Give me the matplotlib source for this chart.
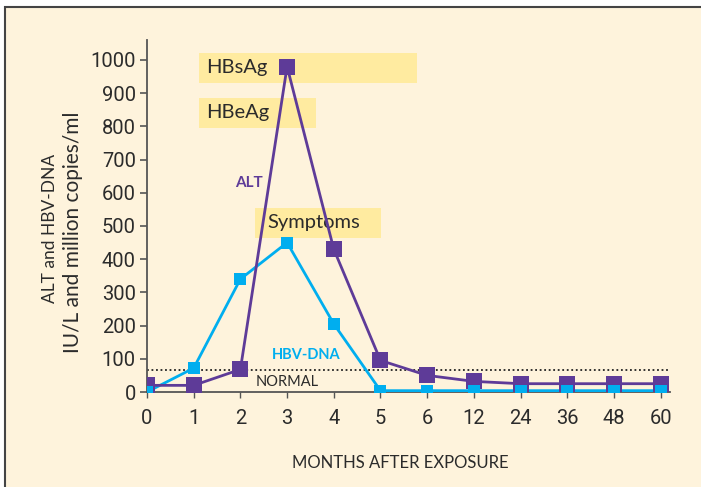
import numpy as np
import matplotlib.pyplot as plt
from matplotlib.patches import Rectangle

# data
months = ['0', '1', '2', '3', '4', '5', '6', '12', '24', '36', '48', '60']
alt = [20, 20, 68, 980, 430, 95, 50, 32, 25, 25, 25, 25]
hbv_dna = [0, 72, 340, 450, 205, 4, 4, 4, 4, 4, 4, 4]
normal_level = 66

# highlight bars (label, x start, x end, y bottom, y top)
bands = [('HBsAg', 1.11, 5.79, 931, 1021),
         ('HBeAg', 1.11, 3.61, 795, 886),
         ('Symptoms', 2.31, 5.02, 464, 554)]

cream = '#fef3dc'
purple = '#5e3b98'
cyan = '#00aeef'
band_col = '#ffeba0'
txt = '#2b2b2b'
tickfont = 'Roboto'

fig = plt.figure(figsize=(7.01, 4.87), dpi=100, facecolor='white')
# framed cream panel
fig.patches.append(Rectangle((5 / 701, -0.1), 1.1, 1 - 7 / 487 + 0.1,
                             transform=fig.transFigure, facecolor=cream,
                             edgecolor='#444444', linewidth=1.5, zorder=-10))

ax = fig.add_axes([147 / 701, 1 - 392 / 487, (670 - 147) / 701, (392 - 40) / 487])
ax.set_facecolor('none')
x = np.arange(len(months))

for label, x0, x1, y0, y1 in bands:
    ax.add_patch(Rectangle((x0, y0), x1 - x0, y1 - y0, facecolor=band_col,
                           edgecolor='none', zorder=1))
    pad = 0.26 if label == 'Symptoms' else 0.15
    ax.text(x0 + pad, (y0 + y1) / 2, label, fontsize=14.5, color=txt,
            va='center', ha='left', family='Lato', zorder=2)

ax.axhline(normal_level, color='#222222', linestyle=(0, (1, 1.5)), linewidth=1.3, zorder=2)

ax.plot(x, hbv_dna, color=cyan, linewidth=2, marker='s', markersize=8,
        markeredgewidth=0, zorder=3)
ax.plot(x, alt, color=purple, linewidth=2, marker='s', markersize=12,
        markeredgewidth=0, zorder=4)
# cyan markers on top so they show under the purple ones at the bottom
ax.plot(x, hbv_dna, linestyle='none', color=cyan, marker='s', markersize=8,
        markeredgewidth=0, zorder=5)

ax.text(2.18, 630, 'ALT', color=purple, fontsize=11, fontweight='bold',
        ha='center', va='center', family='Lato')
ax.text(3.4, 111, 'HBV-DNA', color=cyan, fontsize=10.5, fontweight='bold',
        ha='center', va='center', family='Lato')
ax.text(3.0, 30, 'NORMAL', color=txt, fontsize=10.5,
        ha='center', va='center', family='Lato')

ax.set_xlim(0, 11.2)
ax.set_ylim(0, 1060)
ax.set_xticks(x)
ax.set_xticklabels(months)
ax.set_yticks(np.arange(0, 1001, 100))
for s in ['top', 'right']:
    ax.spines[s].set_visible(False)
for s in ['left', 'bottom']:
    ax.spines[s].set_color('#555555')
    ax.spines[s].set_linewidth(1.3)
ax.tick_params(axis='y', length=5, width=1.2, color='#555555', pad=3,
               labelsize=14.5, labelcolor=txt)
ax.tick_params(axis='x', length=4, width=1.0, color='#555555', pad=8,
               labelsize=14.5, labelcolor=txt)
for t in ax.get_xticklabels() + ax.get_yticklabels():
    t.set_family(tickfont)

fig.text(400 / 701, 1 - 463 / 487, 'MONTHS AFTER EXPOSURE', fontsize=12,
         color=txt, ha='center', va='center', family='Lato')
fig.text(50 / 701, 1 - 228 / 487, 'ALT and HBV-DNA', fontsize=12.5, color=txt,
         rotation=90, ha='center', va='center', family='Lato')
fig.text(73 / 701, 1 - 232 / 487, 'IU/L and million copies/ml', fontsize=15,
         color=txt, rotation=90, ha='center', va='center', family='Lato')

fig.savefig('out.png', dpi=100, facecolor=fig.get_facecolor())
